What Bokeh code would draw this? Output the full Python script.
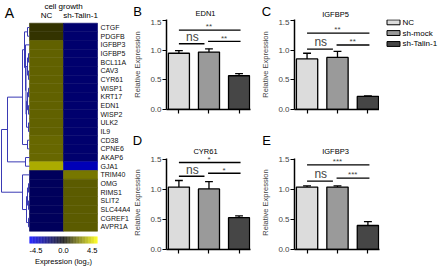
import numpy as np
from bokeh.plotting import figure
from bokeh.models import (Range1d, Label, FixedTicker, LinearColorMapper, ColumnDataSource,
                          PrintfTickFormatter)
from bokeh.layouts import row, column
from bokeh.embed import file_html
from bokeh.resources import INLINE
from bokeh.core.properties import value

FONT = "Liberation Sans"

# ---------------- data: heatmap ----------------
genes = ["CTGF", "PDGFB", "IGFBP3", "IGFBP5", "BCL11A", "CAV3", "CYR61", "WISP1", "KRT17",
         "EDN1", "WISP2", "ULK2", "IL9", "CD38", "CPNE6", "AKAP6", "GJA1", "TRIM40", "OMG",
         "RIMS1", "SLIT2", "SLC44A4", "CGREF1", "AVPR1A"]
heat_conditions = ["NC", "sh-Talin-1"]
nc_expr = [0.9, 0.9, 1.7, 1.7, 1.7, 1.7, 1.7, 1.7, 1.7, 1.7, 1.7, 1.7,
           1.7, 1.8, 1.8, 1.8, 3.0, -1.6, -1.6, -1.6, -1.6, -1.6, -1.6, -1.6]
sh_expr = [-1.9, -1.9, -1.9, -1.9, -1.9, -1.9, -1.9, -1.9, -1.9, -1.9, -1.9, -1.9,
           -1.9, -1.9, -1.9, -1.9, -3.2, 2.1, 1.6, 1.6, 1.6, 1.6, 1.6, 1.6]
expr_ticks = [-4.5, 0.0, 4.5]

# row dendrogram: (child a, child b, linkage distance); ids >= 24 are earlier merges
dendro_merges = [
    (0, 1, 2),      # 24 CTGF-PDGFB
    (3, 4, 1),      # 25
    (5, 6, 1),      # 26
    (7, 8, 1),      # 27
    (9, 10, 1),     # 28
    (11, 12, 1),    # 29
    (25, 26, 2),    # 30
    (27, 28, 2),    # 31
    (31, 29, 3),    # 32
    (30, 32, 3.5),  # 33
    (2, 33, 4),     # 34
    (24, 34, 5),    # 35  X
    (13, 14, 2),    # 36  Y
    (35, 36, 7),    # 37  T1
    (15, 16, 4),    # 38  T2
    (37, 38, 22),   # 39  T
    (18, 19, 1),    # 40
    (20, 21, 1),    # 41
    (22, 23, 1),    # 42
    (40, 41, 2),    # 43
    (43, 42, 3),    # 44
    (17, 44, 7),    # 45  U
    (39, 45, 28),   # 46  root
]

# ---------------- data: bar charts ----------------
groups = ["NC", "sh-mock", "sh-Talin-1"]
edn1_mean = [0.95, 0.97, 0.57]
edn1_err = [0.045, 0.055, 0.035]
igfbp5_mean = [0.855, 0.88, 0.22]
igfbp5_err = [0.095, 0.10, 0.01]
cyr61_mean = [1.04, 1.01, 0.53]
cyr61_err = [0.11, 0.12, 0.03]
igfbp3_mean = [1.04, 1.04, 0.40]
igfbp3_err = [0.02, 0.02, 0.065]
# significance brackets: [NC vs sh-Talin-1, NC vs sh-mock, sh-mock vs sh-Talin-1]
edn1_sig_y = [1.34, 1.11, 1.15]
edn1_sig = ["**", "ns", "**"]
igfbp5_sig_y = [1.29, 1.02, 1.09]
igfbp5_sig = ["**", "ns", "**"]
cyr61_sig_y = [1.45, 1.22, 1.27]
cyr61_sig = ["*", "ns", "*"]
igfbp3_sig_y = [1.41, 1.14, 1.19]
igfbp3_sig = ["***", "ns", "***"]
y_ticks = [0.0, 0.5, 1.0, 1.5]

bar_colors = ["#dcdcdc", "#9a9a9a", "#464646"]

# ---------------- panel A: heatmap ----------------
PX = 34.0      # px per heatmap column
RH = 8.667     # px per heatmap row
HX0, HY0 = 29.0, 22.7
WA, HA = 130, 266

pa = figure(width=WA, height=HA,
            x_range=Range1d(-HX0 / PX, (WA - HX0) / PX),
            y_range=Range1d((HA - HY0) / RH, -HY0 / RH),
            output_backend="svg", toolbar_location=None, min_border=0,
            min_border_left=0, min_border_right=0, min_border_top=0, min_border_bottom=0,
            x_axis_type=None, y_axis_type=None, outline_line_color=None)

pal = []
for k in range(256):
    t = k / 255.0
    if t < 0.5:
        s = t / 0.5
        r, g, b = 0, 0, 255 * (1 - s)
    else:
        s = (t - 0.5) / 0.5
        r, g, b = 255 * s, 255 * s, 0
    pal.append("#%02x%02x%02x" % (int(round(r)), int(round(g)), int(round(b))))
mapper = LinearColorMapper(palette=pal, low=expr_ticks[0], high=expr_ticks[-1])

n = len(genes)
cx, cy, cv = [], [], []
for j, vals in enumerate([nc_expr, sh_expr]):
    for i, v in enumerate(vals):
        cx.append(j + 0.5)
        cy.append(i + 0.5)
        cv.append(v)
hsrc = ColumnDataSource(dict(x=cx, y=cy, v=cv))
pa.rect(x="x", y="y", width=1, height=1, source=hsrc,
        fill_color={"field": "v", "transform": mapper},
        line_color={"field": "v", "transform": mapper}, line_width=0.6)

pa.text(x=[2 + 3 / PX] * n, y=[i + 0.5 for i in range(n)], text=genes,
        text_font=value(FONT), text_font_size="7px", text_baseline="middle",
        text_align="left", text_color="#111111")

# dendrogram
node_y = {i: i + 0.5 for i in range(n)}
node_h = {i: 0.0 for i in range(n)}
sx0, sy0, sx1, sy1 = [], [], [], []
for k, (a, b, h) in enumerate(dendro_merges):
    nid = n + k
    ya, yb = node_y[a], node_y[b]
    xh = -h / PX
    sx0 += [xh, -node_h[a] / PX, -node_h[b] / PX]
    sy0 += [ya, ya, yb]
    sx1 += [xh, xh, xh]
    sy1 += [yb, ya, yb]
    node_y[nid] = (ya + yb) / 2
    node_h[nid] = h
pa.segment(x0=sx0, y0=sy0, x1=sx1, y1=sy1, line_color="#3a3ab4", line_width=1)

# column headers
pa.text(x=[1.0], y=[(6 - HY0) / RH], text=["cell growth"], text_font=value(FONT),
        text_font_size="8px", text_align="center", text_baseline="middle")
pa.text(x=[0.5, 1.5], y=[(15 - HY0) / RH] * 2, text=heat_conditions, text_font=value(FONT),
        text_font_size="8px", text_align="center", text_baseline="middle")
pa.text(x=[(9 - HX0) / PX], y=[(12.5 - HY0) / RH], text=["A"], text_font=value(FONT),
        text_font_size="14px", text_align="center", text_baseline="middle")

# colour bar
cb_vals = np.linspace(expr_ticks[0], expr_ticks[-1], 91)
cb_w = 2.0 / 91
cb_x = [(v - expr_ticks[0]) / (expr_ticks[-1] - expr_ticks[0]) * 2 for v in cb_vals]
cb_x = [cb_w / 2 + xx * (2 - cb_w) / 2 for xx in cb_x]
cb_yc = (239.5 - HY0) / RH
pa.rect(x=cb_x, y=[cb_yc] * len(cb_x), width=cb_w * 1.05, height=7 / RH,
        fill_color=[pal[int(round((v - expr_ticks[0]) / 9.0 * 255))] for v in cb_vals],
        line_color=None)
tick_x = [(v - expr_ticks[0]) / (expr_ticks[-1] - expr_ticks[0]) * 2 for v in expr_ticks]
pa.text(x=tick_x, y=[(250 - HY0) / RH] * 3, text=["%.1f" % v for v in expr_ticks],
        text_align=["left", "center", "right"], text_font=value(FONT),
        text_font_size="7.5px", text_baseline="middle")
pa.text(x=[1.0], y=[(261 - HY0) / RH], text=["Expression (log\u2082)"], text_font=value(FONT),
        text_font_size="7.5px", text_align="center", text_baseline="middle")


# ---------------- header strips (panel letters and titles) ----------------
def blank_fig(w, h, x0, x1, y_top):
    return figure(width=w, height=h, x_range=Range1d(x0, x1), y_range=Range1d(y_top + h, y_top),
                  output_backend="svg", toolbar_location=None, min_border=0,
                  min_border_left=0, min_border_right=0, min_border_top=0, min_border_bottom=0,
                  x_axis_type=None, y_axis_type=None, outline_line_color=None)


def header(y_top, h, items):
    p = blank_fig(309, h, 130, 439, y_top)
    for (x, y, t, fs) in items:
        p.text(x=[x], y=[y], text=[t], text_font=value(FONT), text_font_size=fs,
               text_align="center", text_baseline="middle")
    return p


hdr1 = header(0, 19, [(137, 11, "B", "13px"), (205, 12.5, "EDN1", "7.5px"),
                      (266, 11, "C", "13px"), (335, 13.5, "IGFBP5", "7.5px")])
hdr2 = header(130, 25, [(137, 140, "D", "13px"), (205, 150.5, "CYR61", "7.5px"),
                        (266, 140, "E", "13px"), (335, 151, "IGFBP3", "7.5px")])

# legend strip (right of panel C)
leg = blank_fig(60, 111, 379, 439, 19)
leg_y = [22.5, 35.7, 49.2]
leg.rect(x=[393] * 3, y=leg_y, width=13, height=6, fill_color=bar_colors,
         line_color="black", line_width=1)
leg.text(x=[402] * 3, y=leg_y, text=groups, text_font=value(FONT), text_font_size="8px",
         text_align="left", text_baseline="middle")

# ---------------- bar panels ----------------
FRAME_W = 88
PPU = 31.5
X0 = 1 - 13 / PPU


def bar_panel(means, errs, sig_y, sig_txt, width, height, bottom, left, y_end):
    p = figure(width=width, height=height,
               x_range=Range1d(X0, X0 + FRAME_W / PPU), y_range=Range1d(0, y_end),
               output_backend="svg", toolbar_location=None,
               min_border_left=left, min_border_right=width - left - FRAME_W,
               min_border_top=0, min_border_bottom=bottom, outline_line_color=None)
    p.xgrid.visible = False
    p.ygrid.visible = False
    xs = [1, 2, 3]
    src = ColumnDataSource(dict(x=xs, top=means, color=bar_colors, label=groups))
    p.vbar(x="x", top="top", width=0.7, bottom=0, source=src, fill_color="color",
           line_color="black", line_width=1.3)
    tops = [m + e for m, e in zip(means, errs)]
    p.segment(x0=xs, y0=means, x1=xs, y1=tops, line_color="black", line_width=1.3)
    p.segment(x0=[x - 0.13 for x in xs], y0=tops, x1=[x + 0.13 for x in xs], y1=tops,
              line_color="black", line_width=1.3)
    # significance brackets
    p.segment(x0=[1.0, 1.0, 1.97], y0=sig_y, x1=[3.05, 1.85, 3.05], y1=sig_y,
              line_color="black", line_width=1.4)
    p.add_layout(Label(x=2.0, y=sig_y[0] - 0.02, text=sig_txt[0], text_align="center",
                       text_baseline="bottom", text_font=FONT, text_font_size="8px"))
    p.add_layout(Label(x=1.45, y=sig_y[1] - 0.005, text=sig_txt[1], text_align="center",
                       text_baseline="bottom", text_font=FONT, text_font_size="12px"))
    p.add_layout(Label(x=2.5, y=sig_y[2] - 0.02, text=sig_txt[2], text_align="center",
                       text_baseline="bottom", text_font=FONT, text_font_size="8px"))
    # axes
    p.xaxis.ticker = FixedTicker(ticks=xs)
    p.xaxis.major_label_text_color = None
    p.xaxis.major_label_standoff = 0
    p.yaxis.ticker = FixedTicker(ticks=y_ticks)
    p.yaxis.bounds = (0, 1.52)
    p.yaxis.formatter = PrintfTickFormatter(format="%.1f")
    p.yaxis.axis_label = "Relative Expression"
    p.yaxis.axis_label_text_font = FONT
    p.yaxis.axis_label_text_font_size = "7.5px"
    p.yaxis.axis_label_text_font_style = "normal"
    p.yaxis.axis_label_standoff = 5
    p.yaxis.major_label_text_font = FONT
    p.yaxis.major_label_text_font_size = "8px"
    p.yaxis.major_label_standoff = 1
    for ax in (p.xaxis, p.yaxis):
        ax.axis_line_width = 1.5
        ax.axis_line_color = "black"
        ax.major_tick_line_color = "black"
        ax.major_tick_line_width = 1.2
        ax.major_tick_out = 4
        ax.major_tick_in = 0
        ax.minor_tick_line_color = None
    return p


pb = bar_panel(edn1_mean, edn1_err, edn1_sig_y, edn1_sig, 128, 111, 21, 32, 1.52)
pc = bar_panel(igfbp5_mean, igfbp5_err, igfbp5_sig_y, igfbp5_sig, 121, 111, 21, 33, 1.52)
pd = bar_panel(cyr61_mean, cyr61_err, cyr61_sig_y, cyr61_sig, 128, 111, 17, 32, 94 / 60)
pe = bar_panel(igfbp3_mean, igfbp3_err, igfbp3_sig_y, igfbp3_sig, 181, 111, 17, 33, 94 / 60)

right = column(hdr1, row(pb, pc, leg, spacing=0), hdr2, row(pd, pe, spacing=0), spacing=0)
root = row(pa, right, spacing=0)

open("out.html", "w").write(file_html(root, INLINE))
